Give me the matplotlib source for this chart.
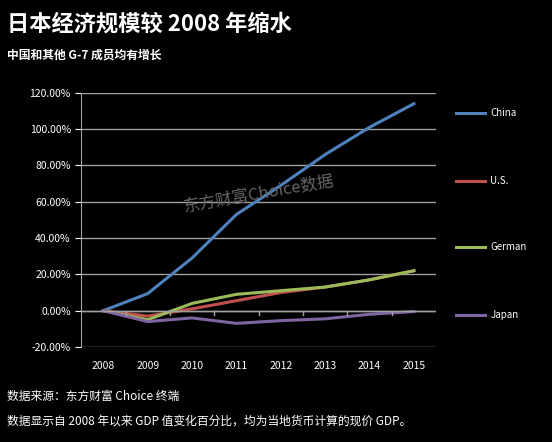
import matplotlib.pyplot as plt
from matplotlib.ticker import FuncFormatter

plt.rcParams['font.family'] = ['Noto Sans CJK SC', 'DejaVu Sans']

years = ['2008', '2009', '2010', '2011', '2012', '2013', '2014', '2015']
china = [0, 9.4, 29, 53, 69, 86, 101, 114]
us = [0, -3, 1, 5.5, 10, 13, 17, 22]
german = [0, -5, 4, 9, 11, 13, 17, 22]
japan = [0, -6, -4, -7, -5.5, -4.5, -2, -0.5]
names = ['China', 'U.S.', 'German', 'Japan']
colours = ['#4f81bd', '#c0504d', '#9bbb59', '#8064a2']

fig = plt.figure(figsize=(5.52, 4.42), dpi=100, facecolor='black')
ax = fig.add_axes([0.147, 0.215, 0.643, 0.575], facecolor='black')

x = range(len(years))
for vals, c in zip([china, us, german, japan], colours):
    ax.plot(x, vals, color=c, lw=2.2)

ax.set_ylim(-20, 120)
ax.set_yticks(range(-20, 121, 20))
ax.yaxis.set_major_formatter(FuncFormatter(lambda v, p: f'{v:.2f}%'))
ax.set_xlim(-0.5, 7.5)
ax.set_xticks(list(x))
ax.set_xticklabels(years)
ax.grid(axis='y', color='#a0a0a0', lw=1)
ax.set_axisbelow(True)
for s in ['top', 'right', 'bottom']:
    ax.spines[s].set_visible(False)
ax.spines['left'].set_color('#a0a0a0')
ax.axhline(0, color='#a0a0a0', lw=1)
ax.tick_params(colors='white', labelsize=7.5, length=4)
ax.tick_params(axis='x', length=0, pad=10)
for i in range(1, 8):
    ax.plot([i - 0.5, i - 0.5], [0, -2.5], color='#a0a0a0', lw=1)

# legend on the right
leg_y = [0.745, 0.59, 0.442, 0.288]
for n, c, yy in zip(names, colours, leg_y):
    fig.add_artist(plt.Line2D([0.826, 0.878], [yy, yy], color=c, lw=2.2))
    fig.text(0.888, yy, n, color='white', fontsize=7, va='center')

ax.text(0.5, 0.6, '东方财富Choice数据', transform=ax.transAxes, color='#666666',
        fontsize=12, rotation=10, ha='center', va='center')

fig.text(0.012, 0.945, '日本经济规模较 2008 年缩水', color='white', fontsize=16,
         fontweight='bold', va='center')
fig.text(0.012, 0.875, '中国和其他 G-7 成员均有增长', color='white', fontsize=8.5,
         fontweight='bold', va='center')
fig.text(0.012, 0.103, '数据来源：东方财富 Choice 终端', color='white', fontsize=8.5, va='center')
fig.text(0.012, 0.048, '数据显示自 2008 年以来 GDP 值变化百分比，均为当地货币计算的现价 GDP。',
         color='white', fontsize=8.5, va='center')

fig.savefig('out.png', dpi=100, facecolor='black')
